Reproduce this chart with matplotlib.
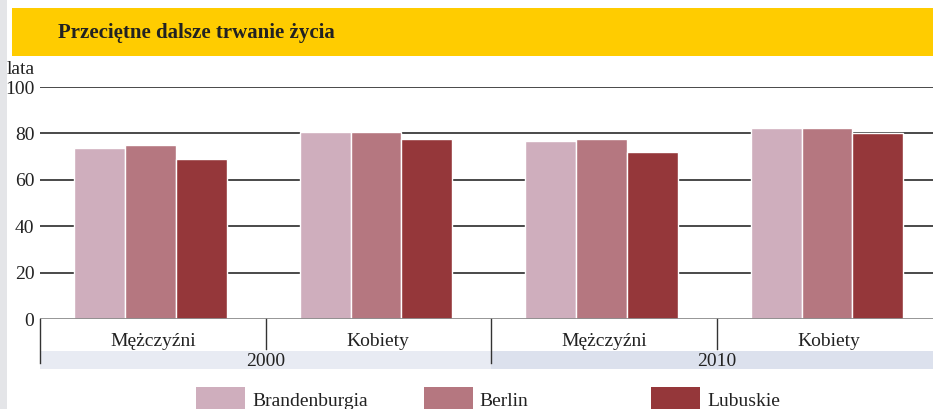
import matplotlib.pyplot as plt
from matplotlib.patches import Rectangle
import numpy as np

# dane
years = ["2000", "2010"]
sexes = ["Mężczyźni", "Kobiety"]
regions = ["Brandenburgia", "Berlin", "Lubuskie"]
brandenburgia = [73.8, 80.8, 76.8, 82.5]
berlin = [75.1, 80.8, 77.7, 82.5]
lubuskie = [69.1, 77.5, 72.0, 80.1]
colors = ["#cfaebd", "#b57780", "#95373a"]
yticks = [0, 20, 40, 60, 80, 100]

plt.rcParams['font.family'] = 'serif'
plt.rcParams['font.serif'] = ['Liberation Serif', 'DejaVu Serif']
W, H = 933, 409
fig = plt.figure(figsize=(W / 100, H / 100), dpi=100)


def fx(x):
    return x / W


def fy(y):
    return 1 - y / H


# tło: szary pasek po lewej i żółty nagłówek
fig.add_artist(Rectangle((0, 0), fx(7), 1, transform=fig.transFigure,
                         color="#e4e5e8", lw=0, zorder=0))
fig.add_artist(Rectangle((fx(12), fy(56)), 1, fy(8) - fy(56), transform=fig.transFigure,
                         color="#ffcc00", lw=0, zorder=0))
fig.text(fx(58), fy(33), "Przeciętne dalsze trwanie życia", fontsize=15,
         fontweight="bold", color="#222222", va="center", ha="left")
fig.text(fx(7), fy(70), "lata", fontsize=14, color="#222222", va="center", ha="left")

ax = fig.add_axes([fx(40), fy(319), 1 - fx(40), fy(87) - fy(319)])
ax.set_xlim(-0.5, -0.5 + 893 / 225.5)
ax.set_ylim(0, 100)

x = np.arange(4)
series = [brandenburgia, berlin, lubuskie]
step = 0.225
for i, (vals, c) in enumerate(zip(series, colors)):
    ax.bar(x + (i - 1) * step - 0.01, vals, width=step, color=c,
           edgecolor="white", linewidth=1, zorder=3, label=regions[i])

for t in yticks[1:]:
    ax.axhline(t, color="#3a3a3a", lw=1.3, zorder=1)
ax.axhline(0, color="#8c8c8c", lw=2, zorder=4)

for s in ax.spines.values():
    s.set_visible(False)
ax.set_yticks(yticks)
ax.set_yticklabels([str(t) for t in yticks], fontsize=14, color="#222222")
ax.tick_params(axis="y", length=0, pad=4)
ax.set_xticks([])

# oś kategorii pod wykresem
u = 232 / 100  # pikseli na jednostkę
band_colors = ["#e8ebf3", "#dce1ed"]
for k, yr in enumerate(years):
    x0 = -0.5 + 2 * k
    x1 = x0 + 2 if k == 0 else ax.get_xlim()[1]
    ax.add_patch(Rectangle((x0, -50 / u), x1 - x0, 18 / u, color=band_colors[k],
                           lw=0, clip_on=False, zorder=0))
    ax.text(0.5 + 2 * k, -43 / u, yr, fontsize=14, ha="center", va="center",
            color="#222222", clip_on=False)
for k in range(4):
    ax.text(k, -23 / u, sexes[k % 2], fontsize=14, ha="center", va="center",
            color="#222222", clip_on=False)
for xb in [-0.5, 1.5]:
    ax.plot([xb, xb], [0, -44 / u], color="#333333", lw=1, clip_on=False, zorder=5)
for xb in [0.5, 2.5]:
    ax.plot([xb, xb], [0, -30 / u], color="#333333", lw=1, clip_on=False, zorder=5)

# legenda
for i, (name, c) in enumerate(zip(regions, colors)):
    left = 196 + i * 227.5
    fig.add_artist(Rectangle((fx(left), fy(412)), fx(49), fy(387) - fy(412),
                             transform=fig.transFigure, color=c, lw=0))
    fig.text(fx(left + 56), fy(402), name, fontsize=14, color="#222222",
             va="center", ha="left")

fig.savefig("out.png", dpi=100)
